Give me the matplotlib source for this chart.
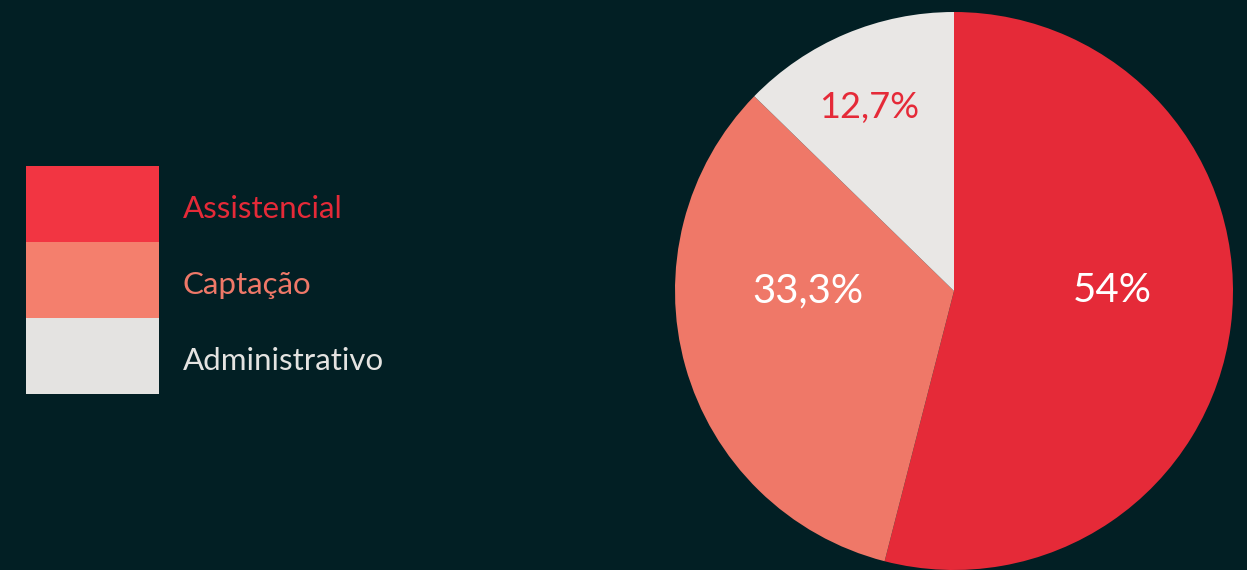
import matplotlib.pyplot as plt
from matplotlib.patches import Rectangle

categories = ["Assistencial", "Captação", "Administrativo"]
values = [54.0, 33.3, 12.7]
pct_labels = ["54%", "33,3%", "12,7%"]

bg = "#021f24"
pie_colors = ["#e52a38", "#ef7868", "#e9e7e5"]
legend_colors = ["#f23542", "#f47f6d", "#e4e3e1"]
text_colors = ["#e52a38", "#ef7868", "#e4e3e1"]
pct_colors = ["white", "white", "#e52a38"]

plt.rcParams['font.family'] = ['Lato', 'DejaVu Sans']

fig = plt.figure(figsize=(12.47, 5.70), dpi=100, facecolor=bg)

# pie axes: centre (954, 291) px, radius 279 px
W, H = 1247, 570
cx, cy, r = 954, 291, 279
ax = fig.add_axes([(cx - r) / W, (H - cy - r) / H, 2 * r / W, 2 * r / H])
ax.set_facecolor(bg)
wedges, _ = ax.pie(values, colors=pie_colors, startangle=90, counterclock=False,
                   radius=1.0, wedgeprops=dict(linewidth=0))
ax.set_xlim(-1, 1)
ax.set_ylim(-1, 1)
ax.set_aspect('equal')
ax.axis('off')

# percentage labels
pct_pos = [(0.566, 0.0), (-0.523, 0.0), (-0.305, 0.657)]
pct_sizes = [29, 29, 26]
for (x, y), s, c, fs in zip(pct_pos, pct_labels, pct_colors, pct_sizes):
    ax.text(x, y, s, ha='center', va='center', color=c, fontsize=fs, fontweight='normal')

# legend on the left
lax = fig.add_axes([0, 0, 1, 1])
lax.set_xlim(0, W)
lax.set_ylim(H, 0)
lax.axis('off')
lax.patch.set_alpha(0)
top = 166
h = 76
for i, (cat, col, tc) in enumerate(zip(categories, legend_colors, text_colors)):
    lax.add_patch(Rectangle((26, top + i * h), 133, h, facecolor=col, edgecolor='none'))
    lax.text(183, top + i * h + h / 2 + 5, cat, ha='left', va='center', color=tc,
             fontsize=22.5, fontweight='normal')

fig.savefig("out.png", dpi=100, facecolor=bg)
